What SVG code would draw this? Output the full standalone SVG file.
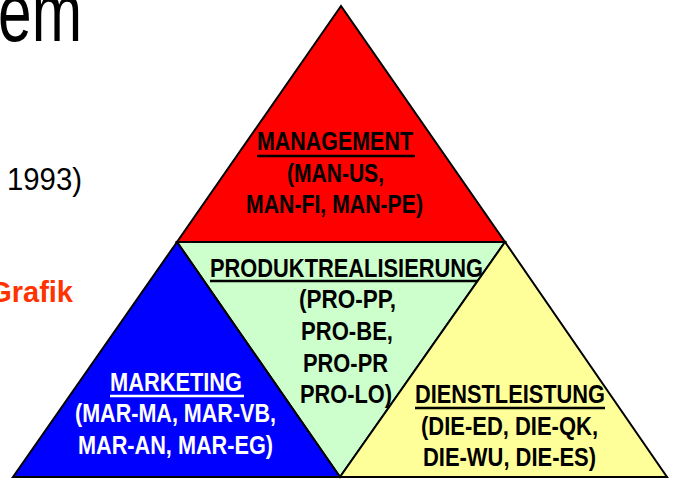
<svg xmlns="http://www.w3.org/2000/svg" width="674" height="479" viewBox="0 0 674 479">
<style>
.tri{stroke:#000;stroke-width:2;stroke-linejoin:miter}
.lbl{font-family:"Liberation Sans",Arial,sans-serif;font-weight:bold;font-size:25px;text-anchor:middle}
.ul{stroke-width:2.5}
.blk{fill:#000}
.wht{fill:#fff}
</style>
<rect width="674" height="479" fill="#fff"/>
<g id="page-text">
<text x="-2" y="41" font-family="Liberation Sans,Arial,sans-serif" font-size="84" textLength="84" lengthAdjust="spacingAndGlyphs" fill="#000">em</text>
<text x="7" y="190" font-family="Liberation Sans,Arial,sans-serif" font-size="31" textLength="75" lengthAdjust="spacingAndGlyphs" fill="#000">1993)</text>
<text x="73" y="302" font-family="Liberation Sans,Arial,sans-serif" font-size="29" font-weight="bold" text-anchor="end" fill="#FF3300">Grafik</text>
</g>
<g id="management">
<polygon class="tri" points="341,6 177,242 505,242" fill="#FF0000"/>
<text class="lbl blk" x="335" y="150" textLength="156" lengthAdjust="spacingAndGlyphs">MANAGEMENT</text>
<line class="ul" x1="257" y1="156" x2="415" y2="156" stroke="#000"/>
<text class="lbl blk" x="335.5" y="182" textLength="97" lengthAdjust="spacingAndGlyphs">(MAN-US,</text>
<text class="lbl blk" x="334.5" y="213" textLength="177" lengthAdjust="spacingAndGlyphs">MAN-FI, MAN-PE)</text>
</g>
<g id="produktrealisierung">
<polygon class="tri" points="177,242 505,242 340,477" fill="#CCFFCC"/>
<text class="lbl blk" x="346.5" y="277" textLength="273" lengthAdjust="spacingAndGlyphs">PRODUKTREALISIERUNG</text>
<line class="ul" x1="210" y1="281" x2="483" y2="281" stroke="#000"/>
<text class="lbl blk" x="347.5" y="308" textLength="97" lengthAdjust="spacingAndGlyphs">(PRO-PP,</text>
<text class="lbl blk" x="347" y="340" textLength="92" lengthAdjust="spacingAndGlyphs">PRO-BE,</text>
<text class="lbl blk" x="345.5" y="372" textLength="85" lengthAdjust="spacingAndGlyphs">PRO-PR</text>
<text class="lbl blk" x="346" y="403" textLength="92" lengthAdjust="spacingAndGlyphs">PRO-LO)</text>
</g>
<g id="marketing">
<polygon class="tri" points="177,242 13,477 340,477" fill="#0000FF"/>
<text class="lbl wht" x="176" y="391" textLength="132" lengthAdjust="spacingAndGlyphs">MARKETING</text>
<line class="ul" x1="110" y1="396" x2="244" y2="396" stroke="#fff"/>
<text class="lbl wht" x="175.5" y="422" textLength="201" lengthAdjust="spacingAndGlyphs">(MAR-MA, MAR-VB,</text>
<text class="lbl wht" x="175.5" y="454" textLength="195" lengthAdjust="spacingAndGlyphs">MAR-AN, MAR-EG)</text>
</g>
<g id="dienstleistung">
<polygon class="tri" points="505,242 340,477 667,477" fill="#FFFF99"/>
<text class="lbl blk" x="510" y="403" textLength="190" lengthAdjust="spacingAndGlyphs">DIENSTLEISTUNG</text>
<line class="ul" x1="415" y1="408" x2="605" y2="408" stroke="#000"/>
<text class="lbl blk" x="509.5" y="435" textLength="177" lengthAdjust="spacingAndGlyphs">(DIE-ED, DIE-QK,</text>
<text class="lbl blk" x="509.5" y="466" textLength="173" lengthAdjust="spacingAndGlyphs">DIE-WU, DIE-ES)</text>
</g>
<g id="connectors"></g>
</svg>
